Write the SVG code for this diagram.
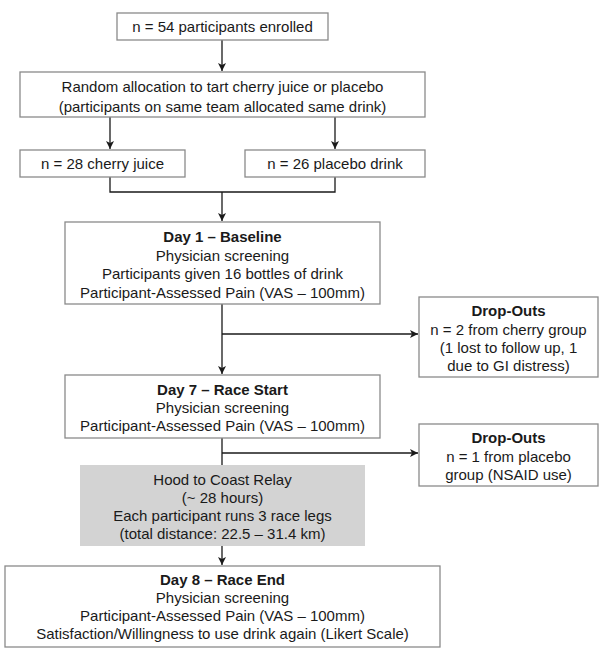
<svg xmlns="http://www.w3.org/2000/svg" width="600" height="655" viewBox="0 0 600 655">
<defs>
<style>
.box{fill:#fff;stroke:#8a8a8a;stroke-width:1.3}
.grey{fill:#d3d3d3;stroke:none}
.t{font-family:"Liberation Sans",Arial,sans-serif;font-size:15px;fill:#1a1a1a;text-anchor:middle}
.b{font-weight:bold}
.c{fill:none;stroke:#1a1a1a;stroke-width:1.3}
</style>
<marker id="ah" viewBox="0 0 8 8" refX="8" refY="4" markerWidth="8" markerHeight="8" markerUnits="userSpaceOnUse" orient="auto">
<path d="M0,0 L8,4 L0,8 L2,4 Z" fill="#1a1a1a"/>
</marker>
</defs>
<rect width="600" height="655" fill="#fff"/>
<g id="connectors">
<path class="c" d="M222,40 V71" marker-end="url(#ah)"/>
<path class="c" d="M110,117 V149" marker-end="url(#ah)"/>
<path class="c" d="M335,117 V149" marker-end="url(#ah)"/>
<path class="c" d="M110,177 V192 H335 V177"/>
<path class="c" d="M222,192 V221" marker-end="url(#ah)"/>
<path class="c" d="M222,304 V374" marker-end="url(#ah)"/>
<path class="c" d="M222,334 H418" marker-end="url(#ah)"/>
<path class="c" d="M222,438 V465"/>
<path class="c" d="M222,453 H418" marker-end="url(#ah)"/>
<path class="c" d="M222,546 V565" marker-end="url(#ah)"/>
</g>
<g id="enrolled">
<rect class="box" x="117" y="13" width="211" height="27"/>
<text class="t" x="222.5" y="32">n = 54 participants enrolled</text>
</g>
<g id="randomization">
<rect class="box" x="20" y="72" width="405" height="45"/>
<text class="t" x="222.5" y="92">Random allocation to tart cherry juice or placebo</text>
<text class="t" x="222.5" y="112">(participants on same team allocated same drink)</text>
</g>
<g id="cherry">
<rect class="box" x="20" y="150" width="165" height="27"/>
<text class="t" x="102.5" y="168.5">n = 28 cherry juice</text>
</g>
<g id="placebo">
<rect class="box" x="245" y="150" width="180" height="27"/>
<text class="t" x="335" y="168.5">n = 26 placebo drink</text>
</g>
<g id="day1">
<rect class="box" x="65" y="222" width="315" height="82"/>
<text class="t b" x="222.5" y="242">Day 1 – Baseline</text>
<text class="t" x="222.5" y="260.5">Physician screening</text>
<text class="t" x="222.5" y="279">Participants given 16 bottles of drink</text>
<text class="t" x="222.5" y="297.5">Participant-Assessed Pain (VAS – 100mm)</text>
</g>
<g id="dropouts1">
<rect class="box" x="419" y="297" width="179" height="80"/>
<text class="t b" x="508.5" y="315.5">Drop-Outs</text>
<text class="t" x="508.5" y="334.5">n = 2 from cherry group</text>
<text class="t" x="508.5" y="353">(1 lost to follow up, 1</text>
<text class="t" x="508.5" y="370.5">due to GI distress)</text>
</g>
<g id="day7">
<rect class="box" x="65" y="375" width="315" height="63"/>
<text class="t b" x="222.5" y="394.5">Day 7 – Race Start</text>
<text class="t" x="222.5" y="412.5">Physician screening</text>
<text class="t" x="222.5" y="431">Participant-Assessed Pain (VAS – 100mm)</text>
</g>
<g id="dropouts2">
<rect class="box" x="419" y="424" width="179" height="62"/>
<text class="t b" x="508.5" y="442.5">Drop-Outs</text>
<text class="t" x="508.5" y="461.5">n = 1 from placebo</text>
<text class="t" x="508.5" y="479.5">group (NSAID use)</text>
</g>
<g id="relay">
<rect class="grey" x="80" y="465" width="285" height="81"/>
<text class="t" x="222.5" y="484.5">Hood to Coast Relay</text>
<text class="t" x="222.5" y="502.5">(~ 28 hours)</text>
<text class="t" x="222.5" y="520.5">Each participant runs 3 race legs</text>
<text class="t" x="222.5" y="538.5">(total distance: 22.5 – 31.4 km)</text>
</g>
<g id="day8">
<rect class="box" x="5" y="566" width="435" height="81"/>
<text class="t b" x="222.5" y="585">Day 8 – Race End</text>
<text class="t" x="222.5" y="603">Physician screening</text>
<text class="t" x="222.5" y="621">Participant-Assessed Pain (VAS – 100mm)</text>
<text class="t" x="222.5" y="639">Satisfaction/Willingness to use drink again (Likert Scale)</text>
</g>
</svg>
